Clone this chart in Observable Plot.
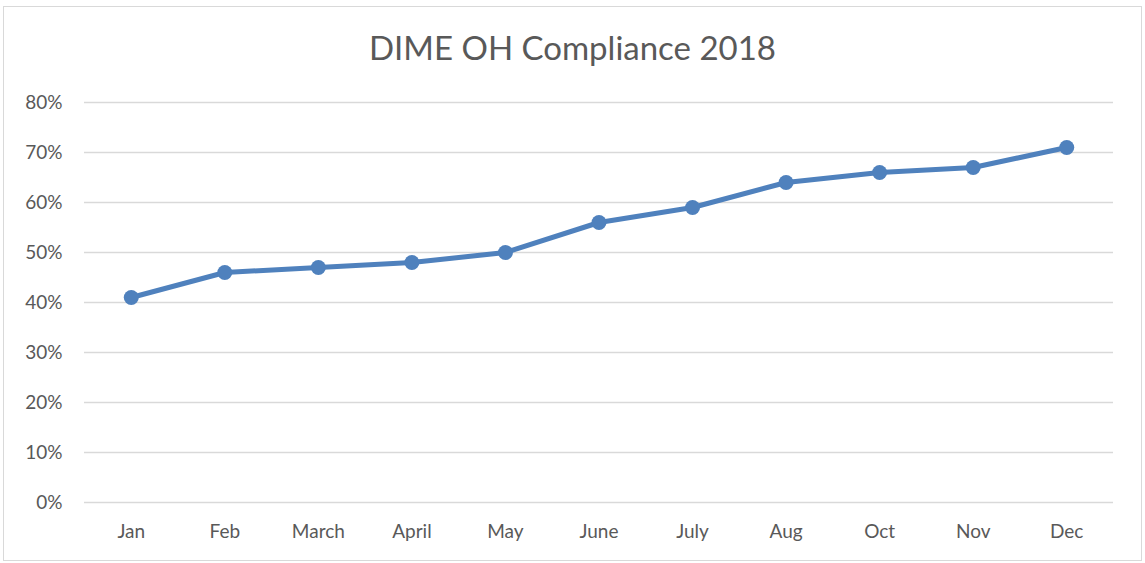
<!DOCTYPE html>
<html>
<head>
<meta charset="utf-8">
<script src="https://cdn.jsdelivr.net/npm/d3@7"></script>
<script src="https://cdn.jsdelivr.net/npm/@observablehq/plot@0.6"></script>
<style>
  body { margin: 0; background: #fff; font-family: Lato, "Open Sans", sans-serif; }
  #wrap { position: relative; width: 1145px; height: 563px; }
  #frame { position: absolute; left: 3px; top: 6px; width: 1139px; height: 555px; border: 1px solid #d9d9d9; box-sizing: border-box; }
  #title { position: absolute; left: 0; top: 27px; width: 1145px; text-align: center; font-size: 33px; color: #595959; line-height: 40px; }
  #chart { position: absolute; left: 0; top: 0; }
</style>
</head>
<body>
<div id="wrap">
  <div id="frame"></div>
  <div id="title">DIME OH Compliance 2018</div>
  <div id="chart"></div>
</div>
<script>
const months = ["Jan", "Feb", "March", "April", "May", "June", "July", "Aug", "Oct", "Nov", "Dec"];
const compliance = [0.41, 0.46, 0.47, 0.48, 0.50, 0.56, 0.59, 0.64, 0.66, 0.67, 0.71];
const yTicks = [0, 0.1, 0.2, 0.3, 0.4, 0.5, 0.6, 0.7, 0.8];

const data = months.map((m, i) => ({month: m, value: compliance[i]}));

const plot = Plot.plot({
  width: 1145,
  height: 563,
  marginLeft: 84,
  marginRight: 32,
  marginTop: 102,
  marginBottom: 61,
  style: {fontFamily: "Lato, 'Open Sans', sans-serif", fontSize: "19px", color: "#595959", background: "transparent"},
  x: {type: "band", domain: months, padding: 0, round: false, label: null, tickSize: 0, tickPadding: 22},
  y: {domain: [0, 0.8], ticks: yTicks, tickFormat: d => Math.round(d * 100) + "%", label: null, tickSize: 0, tickPadding: 22},
  marks: [
    Plot.ruleY(yTicks, {stroke: "#d9d9d9", strokeWidth: 1.5, strokeOpacity: 1}),
    Plot.line(data, {x: "month", y: "value", stroke: "#4f81bd", strokeWidth: 5, strokeLinecap: "round", strokeLinejoin: "round"}),
    Plot.dot(data, {x: "month", y: "value", r: 7.5, fill: "#4f81bd", stroke: "none"})
  ]
});
document.getElementById("chart").appendChild(plot);
</script>
</body>
</html>
